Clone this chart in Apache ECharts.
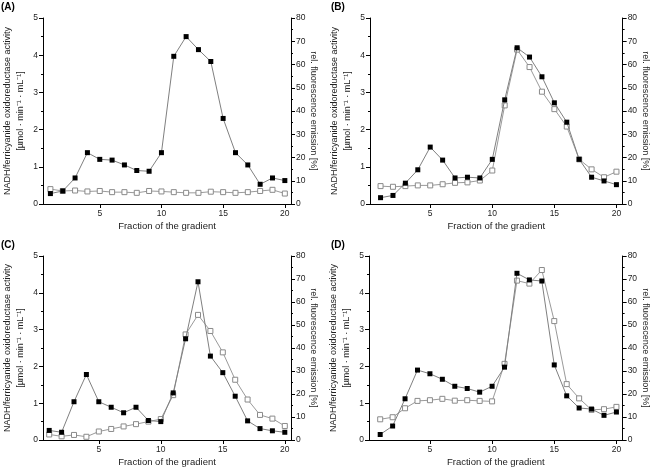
<!DOCTYPE html>
<html>
<head>
<meta charset="utf-8">
<script src="https://cdn.jsdelivr.net/npm/echarts@6/dist/echarts.min.js"></script>
<style>html,body{margin:0;padding:0;background:#fff;}#c{width:651px;height:468px;}</style>
</head>
<body>
<div id="c"></div>
<script>
// Fractions of the gradient
var fractions = [1,2,3,4,5,6,7,8,9,10,11,12,13,14,15,16,17,18,19,20];
var xTicks = [5,10,15,20];
var panelLabels = ['(A)','(B)','(C)','(D)'];

// NADH/ferricyanide oxidoreductase activity (left axis, µmol·min-1·mL-1)
var activityA = [0.28,0.35,0.70,1.38,1.20,1.18,1.05,0.90,0.88,1.38,3.97,4.50,4.15,3.83,2.30,1.38,1.05,0.53,0.70,0.63];
var activityB = [0.17,0.23,0.56,0.92,1.53,1.18,0.70,0.72,0.70,1.20,2.80,4.20,3.95,3.42,2.72,2.20,1.20,0.72,0.62,0.52];
var activityC = [0.26,0.21,1.04,1.78,1.04,0.89,0.74,0.89,0.53,0.50,1.28,2.75,4.30,2.28,1.83,1.19,0.52,0.31,0.25,0.21];
var activityD = [0.15,0.38,1.12,1.90,1.80,1.65,1.46,1.40,1.30,1.46,1.98,4.53,4.35,4.32,2.04,1.20,0.87,0.84,0.67,0.76];

// rel. fluorescence emission (right axis, %)
var fluorA = [6.4,5.6,5.8,5.4,5.6,5.1,5.1,4.8,5.6,5.4,5.1,4.8,4.8,5.3,5.1,4.8,5.1,5.6,6.1,4.5];
var fluorB = [7.7,7.4,7.7,8.0,8.0,8.5,9.1,9.3,10.1,14.4,42.4,66.4,58.9,48.3,40.8,33.3,19.2,14.9,11.5,13.9];
var fluorC = [2.4,1.6,2.2,1.4,3.7,4.8,5.9,6.9,8.0,9.1,19.5,45.9,54.4,47.4,38.1,26.2,17.6,10.9,9.3,6.1];
var fluorD = [9.0,9.9,13.8,17.0,17.3,17.9,17.1,17.3,17.0,16.8,33.1,69.3,68.0,73.9,51.7,24.3,18.1,13.1,13.4,14.4];

var activities = [activityA, activityB, activityC, activityD];
var fluors = [fluorA, fluorB, fluorC, fluorD];
var xMins = [0.4, 0.15, 0.5, 0.1];

var grids = [
  {left:38, top:18, width:253, height:186},
  {left:370, top:18, width:256, height:186},
  {left:39, top:256, width:252, height:185},
  {left:369, top:256, width:258, height:185}
];

var FONT = 'Liberation Sans, Arial, sans-serif';
var axisLineStyle = {color:'#000', width:1};
var labelStyle = {color:'#222', fontSize:8.5, fontFamily:FONT};

var xAxes = [], yAxes = [], series = [], graphics = [];
grids.forEach(function(g, i){
  xAxes.push({
    type:'value', gridIndex:i, min:xMins[i], max:20.5,
    name:'Fraction of the gradient', nameLocation:'middle', nameGap:17,
    nameTextStyle:{color:'#222', fontSize:9.5, fontFamily:FONT},
    axisLine:{show:true, onZero:false, lineStyle:axisLineStyle},
    axisTick:{show:true, length:4, lineStyle:axisLineStyle, customValues:xTicks},
    axisLabel:Object.assign({margin:5, customValues:xTicks}, labelStyle),
    splitLine:{show:false}
  });
  yAxes.push({
    type:'value', gridIndex:i, position:'left', min:0, max:5, interval:1,
    name:'NADH/ferricyanide oxidoreductase activity\n[µmol · min\u207B\u00B9 · mL\u207B\u00B9]',
    nameLocation:'middle', nameRotate:90, nameGap:16,
    nameTextStyle:{color:'#222', fontSize:9, fontFamily:FONT, lineHeight:13},
    axisLine:{show:true, lineStyle:axisLineStyle},
    axisTick:{show:true, length:4, lineStyle:axisLineStyle},
    minorTick:{show:true, splitNumber:2, length:2, lineStyle:axisLineStyle},
    axisLabel:Object.assign({margin:5}, labelStyle),
    splitLine:{show:false}
  });
  yAxes.push({
    type:'value', gridIndex:i, position:'right', min:0, max:80, interval:10,
    name:'rel. fluorescence emission [%]',
    nameLocation:'middle', nameRotate:-90, nameGap:14,
    nameTextStyle:{color:'#222', fontSize:9, fontFamily:FONT},
    axisLine:{show:true, lineStyle:axisLineStyle},
    axisTick:{show:true, length:4, lineStyle:axisLineStyle},
    minorTick:{show:true, splitNumber:2, length:2, lineStyle:axisLineStyle},
    axisLabel:Object.assign({margin:5}, labelStyle),
    splitLine:{show:false}
  });
  series.push({
    type:'line', xAxisIndex:i, yAxisIndex:2*i+1,
    data:fractions.map(function(f,k){return [f, fluors[i][k]];}),
    symbol:'rect', symbolSize:5, showSymbol:true,
    lineStyle:{color:'#9a9a9a', width:1},
    itemStyle:{color:'#fff', borderColor:'#8a8a8a', borderWidth:1},
    z:2, animation:false
  });
  series.push({
    type:'line', xAxisIndex:i, yAxisIndex:2*i,
    data:fractions.map(function(f,k){return [f, activities[i][k]];}),
    symbol:'rect', symbolSize:5, showSymbol:true,
    lineStyle:{color:'#808080', width:1},
    itemStyle:{color:'#000', borderColor:'#000', borderWidth:0},
    z:3, animation:false
  });
  graphics.push({
    type:'text', left: i%2===0 ? 1 : 331, top: i<2 ? 2 : 240,
    style:{text:panelLabels[i], fill:'#000', font:'bold 10px ' + FONT}
  });
});

var chart = echarts.init(document.getElementById('c'), null, {renderer:'canvas'});
chart.setOption({
  animation:false,
  backgroundColor:'#fff',
  grid:grids,
  xAxis:xAxes,
  yAxis:yAxes,
  series:series,
  graphic:graphics
});
</script>
</body>
</html>
